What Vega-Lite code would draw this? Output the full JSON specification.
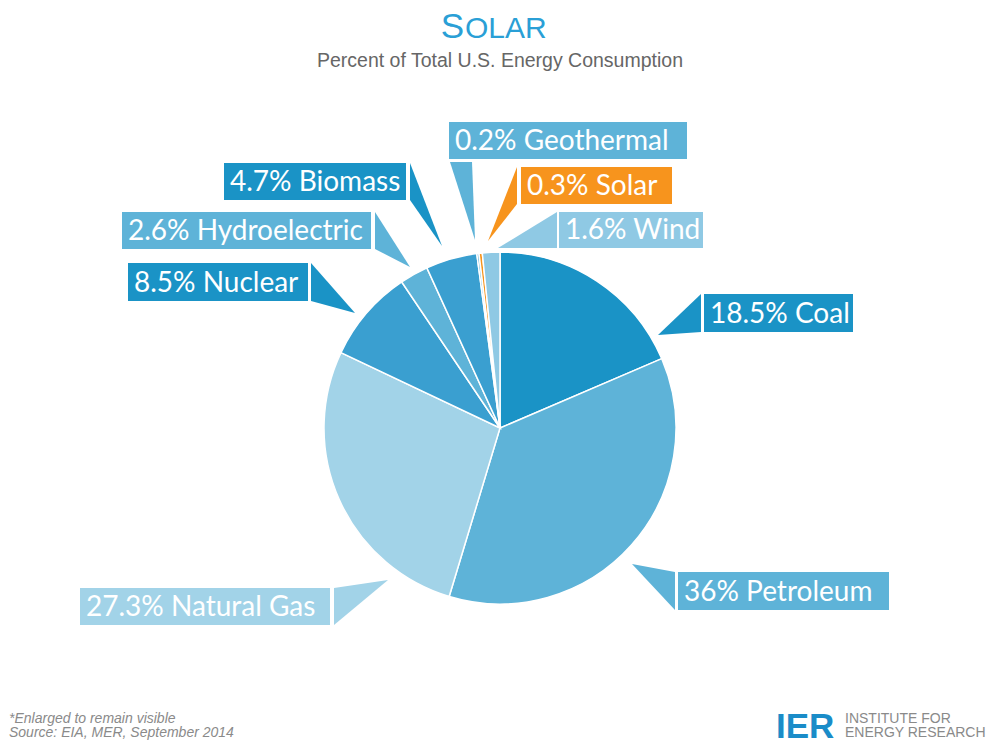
{
  "$schema": "https://vega.github.io/schema/vega-lite/v6.json",
  "width": 1000,
  "height": 750,
  "autosize": {"type": "fit", "contains": "padding"},
  "padding": 0,
  "background": "white",
  "config": {"view": {"stroke": null}},
  "datasets": {
    "slices": [
      {"source": "Coal", "percent": 18.5, "ord": 1},
      {"source": "Petroleum", "percent": 36, "ord": 2},
      {"source": "Natural Gas", "percent": 27.3, "ord": 3},
      {"source": "Nuclear", "percent": 8.5, "ord": 4},
      {"source": "Hydroelectric", "percent": 2.6, "ord": 5},
      {"source": "Biomass", "percent": 4.7, "ord": 6},
      {"source": "Geothermal", "percent": 0.2, "ord": 7},
      {"source": "Solar", "percent": 0.3, "ord": 8},
      {"source": "Wind", "percent": 1.6, "ord": 9}
    ],
    "boxes": [
      {"source": "Geothermal", "label": "0.2% Geothermal", "x1": 449, "x2": 687, "y1": 122, "y2": 159},
      {"source": "Biomass", "label": "4.7% Biomass", "x1": 224, "x2": 406, "y1": 163, "y2": 200},
      {"source": "Solar", "label": "0.3% Solar", "x1": 521, "x2": 672, "y1": 167, "y2": 204},
      {"source": "Hydroelectric", "label": "2.6% Hydroelectric", "x1": 122, "x2": 371, "y1": 212, "y2": 249},
      {"source": "Wind", "label": "1.6% Wind", "x1": 559, "x2": 703, "y1": 212, "y2": 248},
      {"source": "Nuclear", "label": "8.5% Nuclear", "x1": 128, "x2": 308, "y1": 263, "y2": 301},
      {"source": "Coal", "label": "18.5% Coal", "x1": 704, "x2": 853, "y1": 294, "y2": 332},
      {"source": "Petroleum", "label": "36% Petroleum", "x1": 678, "x2": 889, "y1": 572, "y2": 610},
      {"source": "Natural Gas", "label": "27.3% Natural Gas", "x1": 80, "x2": 330, "y1": 588, "y2": 625}
    ],
    "pointers": [
      {"source": "Coal", "i": 1, "px": 701, "py": 294},
      {"source": "Coal", "i": 2, "px": 701, "py": 332},
      {"source": "Coal", "i": 3, "px": 658, "py": 335},
      {"source": "Petroleum", "i": 1, "px": 675, "py": 572},
      {"source": "Petroleum", "i": 2, "px": 675, "py": 610},
      {"source": "Petroleum", "i": 3, "px": 632, "py": 564},
      {"source": "Natural Gas", "i": 1, "px": 334, "py": 588},
      {"source": "Natural Gas", "i": 2, "px": 334, "py": 625},
      {"source": "Natural Gas", "i": 3, "px": 388, "py": 580},
      {"source": "Nuclear", "i": 1, "px": 311, "py": 263},
      {"source": "Nuclear", "i": 2, "px": 311, "py": 301},
      {"source": "Nuclear", "i": 3, "px": 355, "py": 313},
      {"source": "Hydroelectric", "i": 1, "px": 375, "py": 212},
      {"source": "Hydroelectric", "i": 2, "px": 375, "py": 249},
      {"source": "Hydroelectric", "i": 3, "px": 410, "py": 267},
      {"source": "Biomass", "i": 1, "px": 410, "py": 163},
      {"source": "Biomass", "i": 2, "px": 410, "py": 200},
      {"source": "Biomass", "i": 3, "px": 442, "py": 246},
      {"source": "Geothermal", "i": 1, "px": 450, "py": 162},
      {"source": "Geothermal", "i": 2, "px": 472, "py": 162},
      {"source": "Geothermal", "i": 3, "px": 475, "py": 240},
      {"source": "Solar", "i": 1, "px": 517, "py": 167},
      {"source": "Solar", "i": 2, "px": 517, "py": 204},
      {"source": "Solar", "i": 3, "px": 488, "py": 241},
      {"source": "Wind", "i": 1, "px": 557, "py": 212},
      {"source": "Wind", "i": 2, "px": 557, "py": 248},
      {"source": "Wind", "i": 3, "px": 498, "py": 248}
    ]
  },
  "layer": [
    {
      "data": {"name": "pointers"},
      "mark": {"type": "line", "strokeOpacity": 0, "strokeWidth": 0},
      "encoding": {
        "x": {"field": "px", "type": "quantitative", "scale": {"domain": [0, 1000], "nice": false, "zero": false}, "axis": null},
        "y": {"field": "py", "type": "quantitative", "scale": {"domain": [0, 750], "reverse": true, "nice": false, "zero": false}, "axis": null},
        "order": {"field": "i", "type": "quantitative"},
        "detail": {"field": "source", "type": "nominal"},
        "fill": {"field": "source", "type": "nominal", "legend": null,
          "scale": {"domain": ["Coal", "Petroleum", "Natural Gas", "Nuclear", "Hydroelectric", "Biomass", "Geothermal", "Solar", "Wind"],
                    "range": ["#1a93c6", "#5eb3d8", "#a2d3e8", "#1a93c6", "#5eb3d8", "#1a93c6", "#5eb3d8", "#f7941d", "#8fc9e4"]}}
      }
    },
    {
      "data": {"name": "slices"},
      "mark": {"type": "arc", "radius": 176, "stroke": "white", "strokeWidth": 1.5,
               "x": {"expr": "scale('x', 500)"}, "y": {"expr": "scale('y', 428)"}},
      "encoding": {
        "theta": {"field": "percent", "type": "quantitative", "stack": true},
        "order": {"field": "ord", "type": "quantitative"},
        "color": {"field": "source", "type": "nominal", "legend": null,
          "scale": {"domain": ["Coal", "Petroleum", "Natural Gas", "Nuclear", "Hydroelectric", "Biomass", "Geothermal", "Solar", "Wind"],
                    "range": ["#1a93c6", "#5eb3d8", "#a2d3e8", "#3a9fd0", "#5eb3d8", "#3a9fd0", "#5eb3d8", "#f7941d", "#8fc9e4"]}}
      }
    },
    {
      "data": {"name": "boxes"},
      "mark": {"type": "rect"},
      "encoding": {
        "x": {"field": "x1", "type": "quantitative", "scale": {"domain": [0, 1000], "nice": false, "zero": false}, "axis": null},
        "x2": {"field": "x2"},
        "y": {"field": "y1", "type": "quantitative", "scale": {"domain": [0, 750], "reverse": true, "nice": false, "zero": false}, "axis": null},
        "y2": {"field": "y2"},
        "fill": {"field": "source", "type": "nominal", "legend": null}
      }
    },
    {
      "data": {"name": "boxes"},
      "mark": {"type": "text", "align": "left", "baseline": "alphabetic", "dx": 6, "dy": -9, "font": "Lato", "fontSize": 28, "color": "white"},
      "encoding": {
        "x": {"field": "x1", "type": "quantitative", "axis": null},
        "y": {"field": "y2", "type": "quantitative", "axis": null},
        "text": {"field": "label"}
      }
    },
    {
      "data": {"values": [{}]},
      "mark": {"type": "text", "text": "S", "align": "right", "baseline": "alphabetic", "font": "Liberation Sans", "fontSize": 35, "color": "#2a9fd6"},
      "encoding": {"x": {"datum": 464, "type": "quantitative"}, "y": {"datum": 38, "type": "quantitative"}}
    },
    {
      "data": {"values": [{}]},
      "mark": {"type": "text", "text": "OLAR", "align": "left", "baseline": "alphabetic", "font": "Liberation Sans", "fontSize": 30, "color": "#2a9fd6"},
      "encoding": {"x": {"datum": 465, "type": "quantitative"}, "y": {"datum": 38, "type": "quantitative"}}
    },
    {
      "data": {"values": [{}]},
      "mark": {"type": "text", "text": "Percent of Total U.S. Energy Consumption", "align": "center", "baseline": "alphabetic", "font": "Liberation Sans", "fontSize": 19.5, "color": "#666666"},
      "encoding": {"x": {"datum": 500, "type": "quantitative"}, "y": {"datum": 67, "type": "quantitative"}}
    },
    {
      "data": {"values": [{}]},
      "mark": {"type": "text", "text": "*Enlarged to remain visible", "align": "left", "baseline": "alphabetic", "font": "Liberation Sans", "fontStyle": "italic", "fontSize": 14, "color": "#8a8a8a"},
      "encoding": {"x": {"datum": 9, "type": "quantitative"}, "y": {"datum": 723, "type": "quantitative"}}
    },
    {
      "data": {"values": [{}]},
      "mark": {"type": "text", "text": "Source: EIA, MER, September 2014", "align": "left", "baseline": "alphabetic", "font": "Liberation Sans", "fontStyle": "italic", "fontSize": 14, "color": "#8a8a8a"},
      "encoding": {"x": {"datum": 9, "type": "quantitative"}, "y": {"datum": 737, "type": "quantitative"}}
    },
    {
      "data": {"values": [{}]},
      "mark": {"type": "text", "text": "IER", "align": "left", "baseline": "alphabetic", "font": "Liberation Sans", "fontWeight": "bold", "fontSize": 35, "color": "#1a8cc8"},
      "encoding": {"x": {"datum": 776, "type": "quantitative"}, "y": {"datum": 738, "type": "quantitative"}}
    },
    {
      "data": {"values": [{}]},
      "mark": {"type": "text", "text": "INSTITUTE FOR", "align": "left", "baseline": "alphabetic", "font": "Liberation Sans", "fontSize": 14, "color": "#8a8a8a"},
      "encoding": {"x": {"datum": 845, "type": "quantitative"}, "y": {"datum": 723, "type": "quantitative"}}
    },
    {
      "data": {"values": [{}]},
      "mark": {"type": "text", "text": "ENERGY RESEARCH", "align": "left", "baseline": "alphabetic", "font": "Liberation Sans", "fontSize": 14, "color": "#8a8a8a"},
      "encoding": {"x": {"datum": 845, "type": "quantitative"}, "y": {"datum": 737, "type": "quantitative"}}
    }
  ]
}
